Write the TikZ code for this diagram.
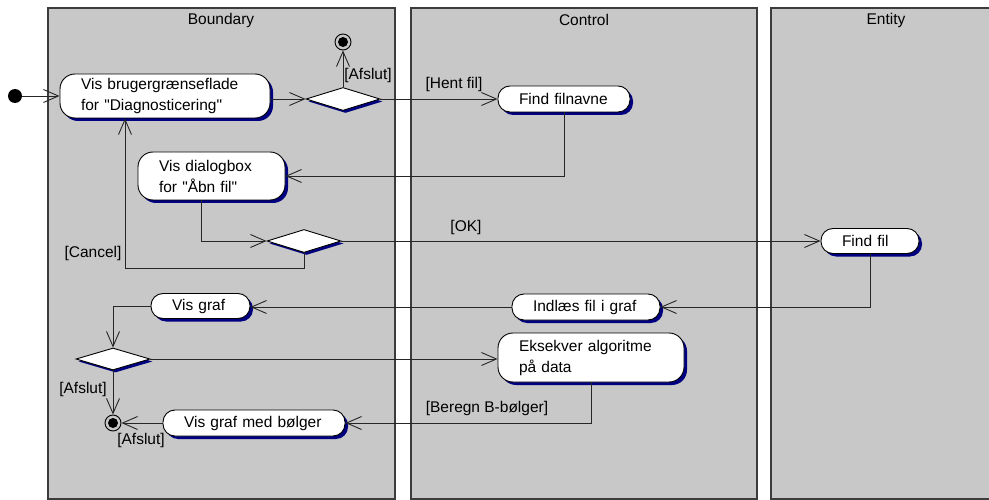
\documentclass[tikz,border=0pt]{standalone}
\usepackage{fontspec}
\setmainfont{Liberation Sans}[Ligatures=TeXOff]
\usetikzlibrary{arrows.meta,shapes.geometric,shadows}
\definecolor{lanegray}{RGB}{200,200,200}
\definecolor{lanebord}{RGB}{60,60,60}
\definecolor{shad}{RGB}{0,0,128}
\begin{document}
\begin{tikzpicture}[x=1pt,y=-1pt,
  lanebox/.style={fill=lanegray, draw=lanebord, line width=1.3pt},
  lanetitle/.style={font=\fontsize{15.5}{18}\selectfont, inner sep=0pt},
  act/.style={draw=black, fill=white, line width=0.9pt, rounded corners=#1,
     general shadow={fill=shad, shadow xshift=3pt, shadow yshift=-3pt},
     font=\fontsize{15.5}{21}\selectfont, align=left, inner xsep=21pt, inner ysep=0pt},
  act/.default=12pt,
  dec/.style={diamond, draw=black, fill=white, line width=0.9pt, inner sep=0pt,
     minimum width=74pt, minimum height=23pt,
     general shadow={fill=shad, shadow xshift=2.5pt, shadow yshift=-2.5pt}},
  initst/.style={circle, fill=black, minimum size=14pt, inner sep=0pt},
  finalst/.style={circle, draw=black, line width=0.9pt, minimum size=16pt, inner sep=0pt,
     path picture={\fill[black] (path picture bounding box.center) circle (5pt);}},
  lbl/.style={font=\fontsize{15.5}{18}\selectfont, inner sep=0pt},
  arr/.style={draw=black!85, line width=0.9pt, -{Straight Barb[length=15pt,width=13pt]}}
]
\fill[white] (0,0) rectangle (989,500);
\useasboundingbox (0,0) rectangle (989,500);

% swimlanes
\draw[lanebox] (48,8) rectangle (395,499);
\draw[lanebox] (411,8) rectangle (757,499);
\fill[lanegray] (771,8) rectangle (989,499);
\draw[draw=lanebord, line width=1.3pt] (989,8) -- (771,8) -- (771,499) -- (989,499);
\node[lanetitle] (tb) at (221,20) {Boundary};
\node[lanetitle] (tc) at (584,20) {Control};
\node[lanetitle] (te) at (886,20) {Entity};

% nodes
\node[initst] (init) at (15,96) {};
\node[act=15pt, text width=168pt, minimum height=44pt] (b1) at (165,96)
  {Vis brugergrænseflade\\for "Diagnosticering"};
\node[dec] (d1) at (343,99) {};
\node[finalst] (f1) at (343,42) {};
\node[act, text width=90pt, minimum height=26pt] (ff) at (564,99) {Find filnavne};
\node[act=15pt, text width=105pt, minimum height=48pt] (dlg) at (211.5,176)
  {Vis dialogbox\\for "Åbn fil"};
\node[dec] (d2) at (304,241) {};
\node[act, text width=56pt, minimum height=25pt] (fnd) at (870,241) {Find fil};
\node[act, text width=106pt, minimum height=26pt] (ind) at (586,307) {Indlæs fil i graf};
\node[act, text width=57pt, minimum height=25pt] (vg) at (200.5,306) {Vis graf};
\node[dec, minimum height=22pt] (d3) at (113,359) {};
\node[act=15pt, text width=144pt, minimum height=49pt] (ek) at (591,357.5)
  {Eksekver algoritme\\på data};
\node[act, text width=140pt, minimum height=26pt] (vgm) at (254,423) {Vis graf med bølger};
\node[finalst] (f2) at (113,423) {};

% labels
\node[lbl] (l1) at (368,75) {[Afslut]};
\node[lbl] (l2) at (454,84) {[Hent fil]};
\node[lbl] (l3) at (93,253) {[Cancel]};
\node[lbl] (l4) at (466,227) {[OK]};
\node[lbl] (l5) at (83,389) {[Afslut]};
\node[lbl] (l6) at (141,440) {[Afslut]};
\node[lbl] (l7) at (487,408) {[Beregn B-bølger]};

% connectors
\draw[arr] (init) -- (b1);
\draw[arr] (b1.east |- d1.west) -- (d1.west);
\draw[arr] (d1.north) -- (f1);
\draw[arr] (d1.east) -- (ff.west |- d1.east);
\draw[arr] (ff.south) |- (dlg.east);
\draw[arr] ([xshift=-10pt]dlg.south) |- (d2.west);
\draw[arr] (d2.south) -- ++(0,15) -| ([xshift=-40pt]b1.south);
\draw[arr] (d2.east) -- (fnd.west);
\draw[arr] (fnd.south) |- (ind.east);
\draw[arr] (ind.west) -- (vg.east |- ind.west);
\draw[arr] (vg.west) -| (d3.north);
\draw[arr] (d3.east) -- (ek.west |- d3.east);
\draw[arr] (ek.south) |- (vgm.east);
\draw[arr] (vgm.west) -- (f2);
\draw[arr] (d3.south) -- (f2.north);
\end{tikzpicture}
\end{document}
